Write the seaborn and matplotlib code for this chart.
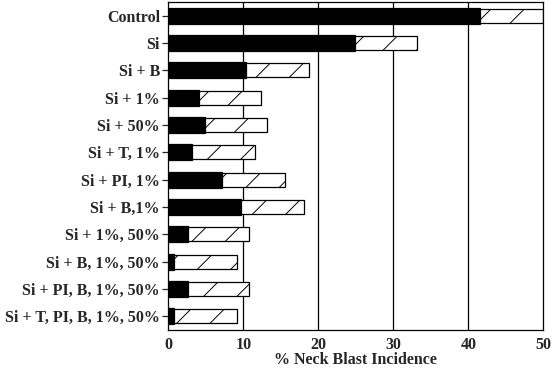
import matplotlib
matplotlib.use('Agg')
import matplotlib.pyplot as plt
import seaborn as sns
import pandas as pd

# treatments, top to bottom
treatments = ['Control', 'Si', 'Si + B', 'Si + 1%', 'Si + 50%', 'Si + T, 1%',
              'Si + PI, 1%', 'Si + B,1%', 'Si + 1%, 50%', 'Si + B, 1%, 50%',
              'Si + PI, B, 1%, 50%', 'Si + T, PI, B, 1%, 50%']
# black part of the bar
black_part = [41.6, 24.9, 10.4, 4.1, 4.9, 3.2, 7.2, 9.7, 2.6, 0.8, 2.6, 0.8]
# total bar length (end of hatched part)
total = [50.0, 33.2, 18.8, 12.4, 13.2, 11.6, 15.6, 18.1, 10.8, 9.2, 10.8, 9.2]

df = pd.DataFrame({'Treatment': treatments, 'Black': black_part, 'Total': total})

sns.set_style('white')
plt.rcParams['font.family'] = ['Liberation Serif', 'DejaVu Serif']
plt.rcParams['font.weight'] = 'bold'
plt.rcParams['hatch.linewidth'] = 0.7

fig, ax = plt.subplots(figsize=(5.53, 3.74), dpi=100)
fig.subplots_adjust(left=0.3044, right=0.9825, top=0.9947, bottom=0.1176)

for x in [10, 20, 30, 40]:
    ax.axvline(x, color='black', lw=0.9, zorder=0)

sns.barplot(data=df, x='Total', y='Treatment', color='white', edgecolor='black',
            hatch='/', linewidth=0.9, width=0.52, saturation=1, ax=ax, zorder=2)
sns.barplot(data=df, x='Black', y='Treatment', color='black', edgecolor='black',
            linewidth=0.9, width=0.58, saturation=1, ax=ax, zorder=3)

ax.set_xlim(0, 50)
ax.set_xticks([0, 10, 20, 30, 40, 50])
ax.set_ylabel('')
ax.set_xlabel('% Neck Blast Incidence', fontsize=11.5, fontweight='bold', labelpad=-1)
ax.tick_params(axis='y', length=4, width=0.9, pad=2, labelsize=11.5, left=True)
ax.tick_params(axis='x', length=0, pad=5, labelsize=11.5)
for sp in ax.spines.values():
    sp.set_linewidth(0.9)
    sp.set_color('black')

plt.savefig('out.png', dpi=100)
